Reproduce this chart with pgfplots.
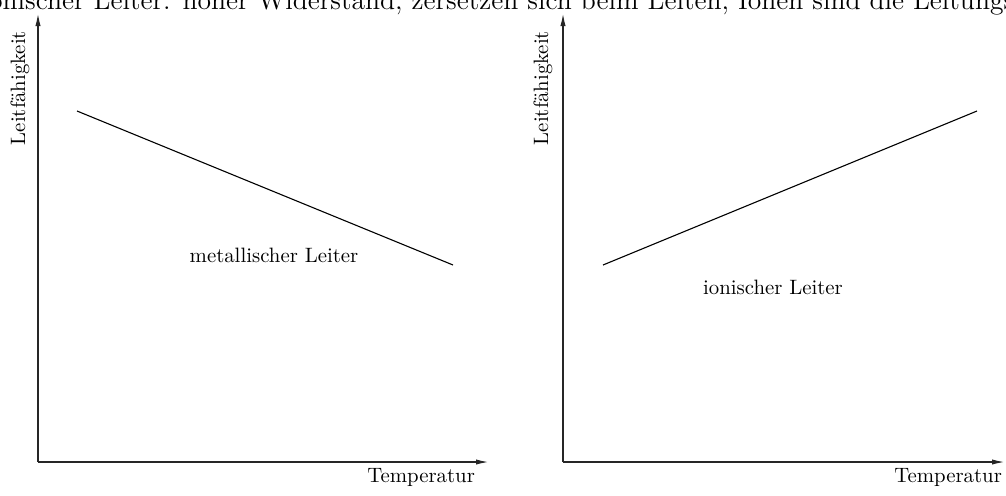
\documentclass[border=0pt]{standalone}
\usepackage{pgfplots}
\pgfplotsset{compat=1.18}
\usetikzlibrary{arrows.meta}
\begin{document}
\begin{tikzpicture}[x=0.5pt,y=0.5pt]
\path[use as bounding box] (0,0) rectangle (1006,495);
\clip (0,0) rectangle (1006,495);
\pgfplotsset{
  panel/.style={
    scale only axis, axis lines=left, clip=false,
    xmin=0, ymin=0, ymax=450, height=225pt,
    xtick=\empty, ytick=\empty,
    axis line style={black!85, line width=0.9pt, -{Latex[length=7pt,width=2.6pt]}},
    anchor=origin,
  },
}
\newcommand{\lbl}{\fontsize{10.4}{12}\selectfont}
% left panel
\begin{axis}[panel, at={(38,33)}, xmax=452, width=226pt]
\addplot[black, no markers, line width=0.55pt] coordinates {(39,351) (415,197)};
\node[anchor=base east,font=\lbl] at (axis cs:444,-20) {Temperatur};
\node[rotate=90,font=\lbl] at (axis cs:-18,374) {Leitfähigkeit};
\node[anchor=base,font=\lbl] at (axis cs:236,200) {metallischer Leiter};
\end{axis}
% right panel
\begin{axis}[panel, at={(563,33)}, xmax=443, width=221.5pt]
\addplot[black, no markers, line width=0.55pt] coordinates {(40,197) (414,351)};
\node[anchor=base east,font=\lbl] at (axis cs:446,-20) {Temperatur};
\node[rotate=90,font=\lbl] at (axis cs:-20,374) {Leitfähigkeit};
\node[anchor=base,font=\lbl] at (axis cs:210,168) {ionischer Leiter};
\end{axis}
\node[anchor=base west,inner sep=0pt,font=\fontsize{13.8}{15}\selectfont] at (-21,486)
  {Ionischer Leiter: hoher Widerstand, zersetzen sich beim Leiten, Ionen sind die Leitungsträger};
\end{tikzpicture}
\end{document}
